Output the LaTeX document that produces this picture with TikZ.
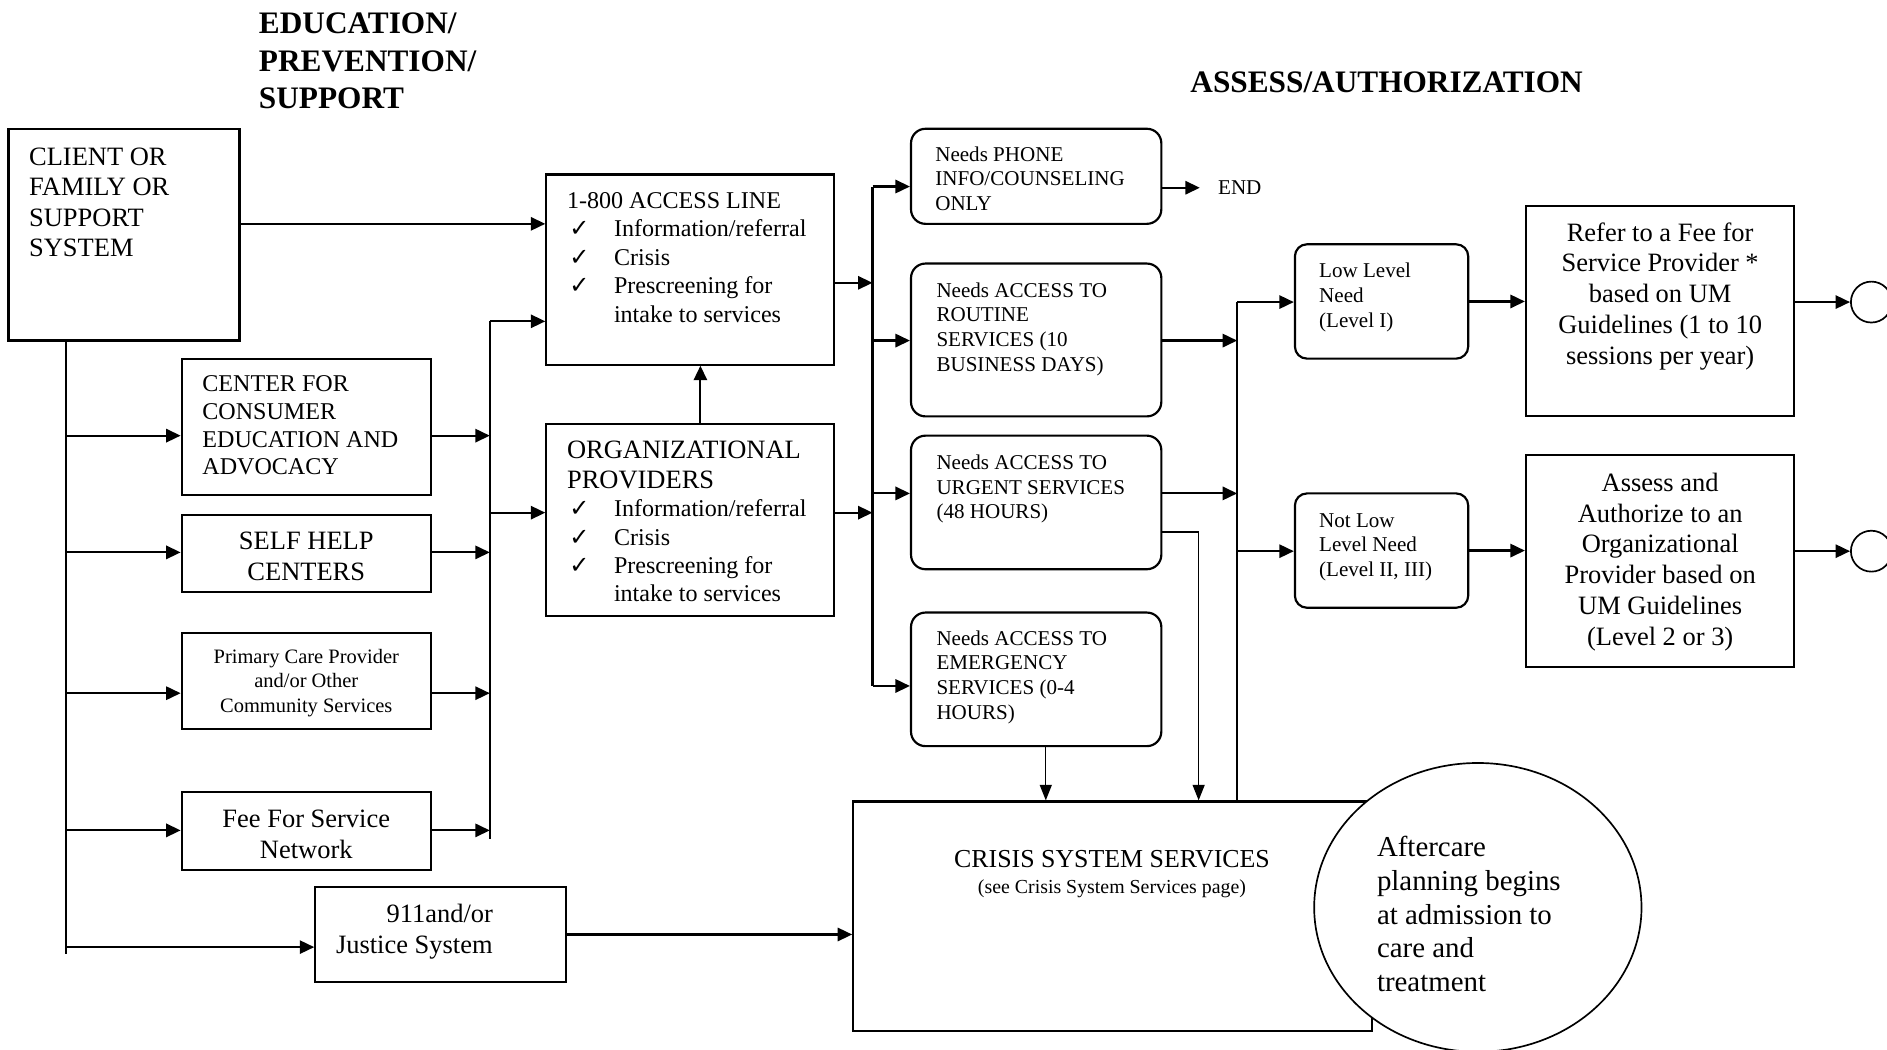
\documentclass[tikz,border=0pt]{standalone}
\usepackage{fontspec}
\setmainfont{Liberation Serif}
\newfontfamily\symf{DejaVu Sans}
\usetikzlibrary{arrows.meta,shapes.geometric}
\newcommand\fsz[2]{\fontsize{#1}{#2}\selectfont}
\newcommand\tabL[1]{\begin{tabular}[t]{@{}l@{}}#1\end{tabular}}
\newcommand\tabC[1]{\begin{tabular}[t]{@{}c@{}}#1\end{tabular}}
\newcommand\ck{{\symf\fontsize{20}{20}\selectfont ✓}}
\newcommand\chkL[1]{\begin{tabular}[t]{@{}p{37pt}@{}l@{}}#1\end{tabular}}
\begin{document}
\begin{tikzpicture}[x=1pt,y=-1pt,
  box/.style={draw, line width=1.8pt, inner sep=0pt},
  rbox/.style={box, rounded corners=12pt},
  ln/.style={line width=1.8pt},
  arr/.style={line width=1.8pt, -{Triangle[length=12pt,width=11pt]}},
  arrthin/.style={line width=1.1pt, -{Triangle[length=13pt,width=10pt]}},
  txt/.style={inner sep=0pt}]
\useasboundingbox (0,0) rectangle (1568,872);

% titles
\node[txt, anchor=base west, font=\fsz{26}{31.5}\bfseries] (tEdu) at (215,27.5) {\tabL{EDUCATION/\\PREVENTION/\\SUPPORT}};
\node[txt, anchor=base west, font=\fsz{26}{31.5}\bfseries] (tAss) at (989,77) {ASSESS/AUTHORIZATION};

% boxes
\node[box, minimum width=192pt, minimum height=176pt] (client) at (103,195) {};
\node[box, minimum width=207pt, minimum height=113pt] (cfc) at (254.5,354.5) {};
\node[box, minimum width=207pt, minimum height=64pt] (shc) at (254.5,460) {};
\node[box, minimum width=207pt, minimum height=80pt] (pcp) at (254.5,566) {};
\node[box, minimum width=207pt, minimum height=65pt] (ffs) at (254.5,690.5) {};
\node[box, minimum width=208pt, minimum height=79pt] (j911) at (366,776.5) {};
\node[box, minimum width=239pt, minimum height=158pt] (acc) at (573.5,224) {};
\node[box, minimum width=239pt, minimum height=160pt] (org) at (573.5,432) {};
\node[rbox, minimum width=208pt, minimum height=79pt] (phone) at (861,146.5) {};
\node[rbox, minimum width=208pt, minimum height=127pt] (routine) at (861,282.5) {};
\node[rbox, minimum width=208pt, minimum height=111pt] (urgent) at (861,417.5) {};
\node[rbox, minimum width=208pt, minimum height=111pt] (emerg) at (861,564.5) {};
\node[box, rounded corners=10pt, minimum width=144pt, minimum height=95pt] (low) at (1148,250.5) {};
\node[box, rounded corners=10pt, minimum width=144pt, minimum height=95pt] (notlow) at (1148,457.5) {};
\node[box, minimum width=223pt, minimum height=175pt] (refer) at (1379.5,258.5) {};
\node[box, minimum width=223pt, minimum height=176pt] (assess) at (1379.5,466) {};
\node[circle, draw, line width=1.4pt, minimum size=34pt, inner sep=0pt] (c1) at (1555,251) {};
\node[circle, draw, line width=1.4pt, minimum size=34pt, inner sep=0pt] (c2) at (1555,458) {};
\node[box, minimum width=431pt, minimum height=191pt] (crisis) at (924.5,761.5) {};
\node[ellipse, draw, line width=1.4pt, fill=white, minimum width=272pt, minimum height=240pt, inner sep=0pt] (after) at (1228,754) {};

% texts
\node[txt, anchor=base west, font=\fsz{22}{25.3}] (clientT) at (24,137.5) {\tabL{CLIENT OR\\FAMILY OR\\SUPPORT\\SYSTEM}};
\node[txt, anchor=base west, font=\fsz{20}{23}] (cfcT) at (168,325.5) {\tabL{CENTER FOR\\CONSUMER\\EDUCATION AND\\ADVOCACY}};
\node[txt, anchor=base, font=\fsz{22}{26}] (shcT) at (254.5,456.5) {\tabC{SELF HELP\\CENTERS}};
\node[txt, anchor=base, font=\fsz{17}{20.5}] (pcpT) at (254.5,551) {\tabC{Primary Care Provider\\and/or Other\\Community Services}};
\node[txt, anchor=base, font=\fsz{22}{26}] (ffsT) at (254.5,687.5) {\tabC{Fee For Service\\Network}};
\node[txt, anchor=base west, font=\fsz{22}{26}] (j911T) at (279,766.5) {\tabL{\hspace*{42pt}911and/or\\Justice System}};
\node[txt, anchor=base west, font=\fsz{20}{23.5}] (accT) at (471,173.6) {1-800 ACCESS LINE};
\node[txt, anchor=base west, font=\fsz{20}{23.7}] (accL) at (473,196.6) {\chkL{\ck & Information/referral\\ \ck & Crisis\\ \ck & Prescreening for\\ & intake to services}};
\node[txt, anchor=base west, font=\fsz{22}{25}] (orgT) at (471,381) {\tabL{ORGANIZATIONAL\\PROVIDERS}};
\node[txt, anchor=base west, font=\fsz{20}{23.5}] (orgL) at (473,429.5) {\chkL{\ck & Information/referral\\ \ck & Crisis\\ \ck & Prescreening for\\ & intake to services}};
\node[txt, anchor=base west, font=\fsz{17.5}{20.5}] (phoneT) at (777,134) {\tabL{Needs PHONE\\INFO/COUNSELING\\ONLY}};
\node[txt, anchor=west, inner xsep=15pt, font=\fsz{17.5}{20.5}] (endT) at (997,156) {END};
\node[txt, anchor=base west, font=\fsz{17.5}{20.5}] (routineT) at (778,247) {\tabL{Needs ACCESS TO\\ROUTINE\\SERVICES (10\\BUSINESS DAYS)}};
\node[txt, anchor=base west, font=\fsz{17.5}{20.5}] (urgentT) at (778,390) {\tabL{Needs ACCESS TO\\URGENT SERVICES\\(48 HOURS)}};
\node[txt, anchor=base west, font=\fsz{17.5}{20.5}] (emergT) at (778,536) {\tabL{Needs ACCESS TO\\EMERGENCY\\SERVICES (0-4\\HOURS)}};
\node[txt, anchor=base west, font=\fsz{17.5}{20.5}] (lowT) at (1096,231) {\tabL{Low Level\\Need\\(Level I)}};
\node[txt, anchor=base west, font=\fsz{17.5}{20.5}] (notlowT) at (1096,438) {\tabL{Not Low\\Level Need\\(Level II, III)}};
\node[txt, anchor=base, font=\fsz{22}{25.5}] (referT) at (1379.5,200.5) {\tabC{Refer to a Fee for\\Service Provider *\\based on UM\\Guidelines (1 to 10\\sessions per year)}};
\node[txt, anchor=base, font=\fsz{22}{25.5}] (assessT) at (1379.5,408.5) {\tabC{Assess and\\Authorize to an\\Organizational\\Provider based on\\UM Guidelines\\(Level 2 or 3)}};
\node[txt, anchor=base, font=\fsz{21.5}{24}] (crisisT) at (924,720.5) {CRISIS SYSTEM SERVICES};
\node[txt, anchor=base, font=\fsz{16.5}{20}] (crisisS) at (924,742.5) {(see Crisis System Services page)};
\node[txt, anchor=base west, font=\fsz{24}{28}] (afterT) at (1144,712) {\tabL{Aftercare\\planning begins\\at admission to\\care and\\treatment}};

% junction coordinates
\coordinate (T0) at (55,283);
\coordinate (T1) at (55,793);
\coordinate (T362) at (55,362);
\coordinate (T459) at (55,459);
\coordinate (T576) at (55,576);
\coordinate (T690) at (55,690);
\coordinate (T787) at (55,787);
\coordinate (B267) at (407,267);
\coordinate (B697) at (407,697);
\coordinate (B362) at (407,362);
\coordinate (B459) at (407,459);
\coordinate (B576) at (407,576);
\coordinate (B690) at (407,690);
\coordinate (B426) at (407,426);
\coordinate (X582) at (582,330);
\coordinate (D155) at (725,155);
\coordinate (D235) at (725,235);
\coordinate (D283) at (725,283);
\coordinate (D410) at (725,410);
\coordinate (D426) at (725,426);
\coordinate (D570) at (725,570);
\coordinate (F251) at (1028,251);
\coordinate (F283) at (1028,283);
\coordinate (F410) at (1028,410);
\coordinate (F458) at (1028,458);
\coordinate (U) at (996,442);
\coordinate (X869) at (869,640);
\coordinate (C186) at (300,186);

% connectors
\draw[arr] (C186 -| client.east) -- (C186 -| acc.west);
\draw[ln] (T0) -- (T1);
\draw[arr] (T362) -- (T362 -| cfc.west);
\draw[arr] (T459) -- (T459 -| shc.west);
\draw[arr] (T576) -- (T576 -| pcp.west);
\draw[arr] (T690) -- (T690 -| ffs.west);
\draw[arr] (T787) -- (T787 -| j911.west);
\draw[ln] (B267) -- (B697);
\draw[arr] (B362 -| cfc.east) -- (B362);
\draw[arr] (B459 -| shc.east) -- (B459);
\draw[arr] (B576 -| pcp.east) -- (B576);
\draw[arr] (B690 -| ffs.east) -- (B690);
\draw[arr] (B267) -- (B267 -| acc.west);
\draw[arr] (B426) -- (B426 -| org.west);
\draw[arr] (X582 |- org.north) -- (X582 |- acc.south);
\draw[arr] (D235 -| acc.east) -- (D235);
\draw[arr] (D426 -| org.east) -- (D426);
\draw[ln] (D155) -- (D570);
\draw[arr] (D155) -- (D155 -| phone.west);
\draw[arr] (D283) -- (D283 -| routine.west);
\draw[arr] (D410) -- (D410 -| urgent.west);
\draw[arr] (D570) -- (D570 -| emerg.west);
\draw[arr] (endT.west -| phone.east) -- (endT.west);
\draw[arr] (F283 -| routine.east) -- (F283);
\draw[arr] (F410 -| urgent.east) -- (F410);
\draw[line width=1.1pt] (F251) -- (F251 |- crisis.north);
\draw[arr] (F251) -- (F251 -| low.west);
\draw[arr] (F458) -- (F458 -| notlow.west);
\draw[arrthin] (U -| urgent.east) -- (U) -- (U |- crisis.north);
\draw[arrthin] (X869 |- emerg.south) -- (X869 |- crisis.north);
\draw[arr] (low.east) -- (low.east -| refer.west);
\draw[arr] (notlow.east) -- (notlow.east -| assess.west);
\draw[arr] (c1.west -| refer.east) -- (c1.west);
\draw[arr] (c2.west -| assess.east) -- (c2.west);
\draw[arr] (j911.east) -- (j911.east -| crisis.west);
\end{tikzpicture}
\end{document}
